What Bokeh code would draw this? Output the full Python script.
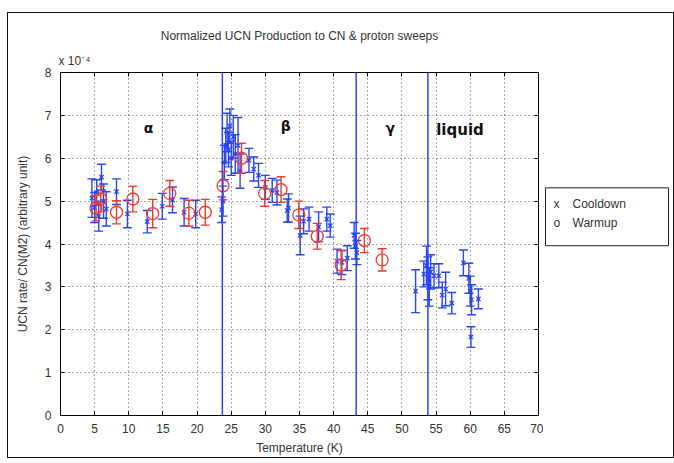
import numpy as np
from bokeh.plotting import figure
from bokeh.layouts import row
from bokeh.models import Span, Label, LinearAxis, Title
from bokeh.core.properties import value
from bokeh.embed import file_html
from bokeh.resources import INLINE

# ---------------- data (values in units of 1e-4) ----------------
cool_T = [4.6, 5.0, 5.3, 5.6, 6.0, 6.3, 6.7, 8.2, 9.8, 12.7, 14.9, 16.4, 18.1, 19.8,
          23.6, 23.8, 24.0, 24.2, 24.4, 24.6, 24.8, 25.0, 25.3, 25.6, 26.0, 26.3,
          27.6, 28.3, 29.0, 30.0, 31.0, 31.7, 33.2, 33.4, 35.1, 35.6, 36.4, 37.8,
          39.0, 39.5, 40.5, 41.2, 42.0, 43.0, 43.2, 43.4,
          52.0, 53.2, 53.6, 53.8, 54.0, 54.2, 54.7, 55.4, 55.9, 56.4, 57.3,
          59.0, 59.8, 60.0, 60.2, 60.1, 61.2]
cool_v = [5.07, 4.85, 5.20, 4.65, 5.56, 5.00, 4.82, 5.22, 4.70, 4.52, 4.88, 5.03, 4.74, 4.70,
          4.80, 5.00, 5.90, 6.30, 6.60, 6.20, 6.75, 6.00, 6.50, 6.10, 6.30, 5.70,
          5.95, 5.75, 5.60, 5.32, 5.25, 5.20, 4.78, 4.84, 4.20, 4.53, 4.58, 4.40,
          4.58, 4.43, 3.60, 3.57, 3.67, 4.20, 3.95, 3.80,
          2.90, 3.30, 3.50, 3.20, 3.00, 3.35, 3.26, 3.26, 2.81, 2.95, 2.62,
          3.56, 3.20, 2.90, 2.70, 1.83, 2.72]
cool_e = [0.45, 0.35, 0.30, 0.35, 0.30, 0.40, 0.40, 0.30, 0.32, 0.26, 0.30, 0.30, 0.32, 0.32,
          0.30, 0.35, 0.40, 0.40, 0.45, 0.40, 0.40, 0.40, 0.50, 0.45, 0.65, 0.40,
          0.28, 0.28, 0.28, 0.28, 0.28, 0.29, 0.27, 0.33, 0.45, 0.29, 0.28, 0.35,
          0.28, 0.27, 0.28, 0.28, 0.29, 0.30, 0.30, 0.28,
          0.50, 0.30, 0.45, 0.50, 0.45, 0.40, 0.28, 0.28, 0.30, 0.39, 0.25,
          0.30, 0.35, 0.35, 0.35, 0.24, 0.23]

warm_T = [5.2, 5.9, 8.2, 10.6, 13.5, 16.0, 18.8, 21.2, 23.8, 26.5, 29.9, 32.3,
          34.9, 37.6, 41.1, 44.5, 47.1]
warm_v = [4.84, 5.05, 4.74, 5.05, 4.71, 5.18, 4.72, 4.74, 5.36, 6.00, 5.18, 5.27,
          4.68, 4.18, 3.51, 4.08, 3.63]
warm_e = [0.30, 0.30, 0.27, 0.30, 0.33, 0.30, 0.30, 0.30, 0.33, 0.35, 0.30, 0.30,
          0.32, 0.30, 0.34, 0.28, 0.26]

x_ticks = list(range(0, 75, 5))
y_ticks = list(range(0, 9))
phase_bounds = [23.7, 43.3, 53.8]
phase_names = ["α", "β", "γ", "liquid"]
phase_T = [12.9, 33.0, 48.3, 58.5]
phase_v = [6.7, 6.75, 6.7, 6.65]
series_names = ["Cooldown", "Warmup"]
series_symbols = ["x", "o"]

BLUE = "#2845ee"
RED = "#f03a2a"
FONT = "Liberation Sans"
TXT = "#333"

p = figure(width=535, height=444, x_range=(0, 70), y_range=(0, 8), title=None,
           output_backend="svg", toolbar_location=None,
           min_border_left=52, min_border_right=5, min_border_top=59, min_border_bottom=42)
p.outline_line_color = "black"
p.background_fill_color = "white"
p.border_fill_color = "white"

for ax in (p.xaxis[0], p.yaxis[0]):
    ax.major_tick_in = 4
    ax.major_tick_out = 0
    ax.minor_tick_line_color = None
    ax.axis_line_color = "black"
    ax.major_tick_line_color = "black"
    ax.major_label_text_font = FONT
    ax.major_label_text_font_size = "12px"
    ax.major_label_text_color = TXT
    ax.axis_label_text_font = FONT
    ax.axis_label_text_font_size = "12px"
    ax.axis_label_text_font_style = "normal"
    ax.axis_label_text_color = TXT
p.xaxis.ticker = x_ticks
p.yaxis.ticker = y_ticks
p.xaxis.axis_label = "Temperature (K)"
p.yaxis.axis_label = "UCN rate/ CN(M2) (arbitrary unit)"
p.xaxis.major_label_standoff = 8
p.xaxis.axis_label_standoff = 5
p.yaxis.major_label_standoff = 9
p.yaxis.axis_label_standoff = 12

# box-style axes on top and right: ticks only, no labels
for loc, tk in (("above", x_ticks), ("right", y_ticks)):
    a = LinearAxis(ticker=tk, major_tick_in=4, major_tick_out=0,
                   minor_tick_line_color=None, axis_line_color="black",
                   major_label_standoff=0, major_label_text_font_size="1px",
                   major_label_overrides={t: "" for t in tk})
    p.add_layout(a, loc)

# exponent marker and title (stacked above the frame)
p.add_layout(Title(text="x 10⁻⁴", align="left", offset=-2, standoff=10,
                   text_font=FONT, text_font_size="12px", text_font_style="normal",
                   text_color=TXT), "above")
p.add_layout(Title(text="Normalized UCN Production to CN & proton sweeps", align="center",
                   standoff=8, text_font=FONT, text_font_size="12px",
                   text_font_style="normal", text_color=TXT), "above")

for g, tk in ((p.xgrid, x_ticks), (p.ygrid, y_ticks)):
    g.ticker = tk
    g.grid_line_color = "#444"
    g.grid_line_dash = "1 3"
    g.grid_line_width = 1
    g.grid_line_alpha = 0.9

cap = 0.65

def errbars(T, v, e, color):
    T = np.array(T); v = np.array(v); e = np.array(e)
    p.segment(T, v - e, T, v + e, line_color=color, line_width=1.4)
    p.segment(T - cap, v + e, T + cap, v + e, line_color=color, line_width=1.4)
    p.segment(T - cap, v - e, T + cap, v - e, line_color=color, line_width=1.4)
    return T, v

ct, cv = errbars(cool_T, cool_v, cool_e, BLUE)
p.scatter(ct, cv, marker="x", size=6, line_color=BLUE, line_width=1.3)
wt, wv = errbars(warm_T, warm_v, warm_e, RED)
p.scatter(wt, wv, marker="circle", size=12, fill_color=None, line_color=RED, line_width=1.3)

for b in phase_bounds:
    p.add_layout(Span(location=b, dimension="height", line_color=BLUE, line_width=1.5))

for name, t, v in zip(phase_names, phase_T, phase_v):
    p.add_layout(Label(x=t, y=v, text=name, text_align="center", text_baseline="middle",
                       text_font="DejaVu Sans", text_font_style="bold",
                       text_font_size="14px" if name != "liquid" else "15px",
                       text_color="#111"))

# ---- legend box, drawn in a companion figure sharing the same vertical scale ----
lg = figure(width=130, height=444, x_range=(0, 130), y_range=(0, 8),
            x_axis_type=None, y_axis_type=None, output_backend="svg", toolbar_location=None,
            min_border_left=0, min_border_right=0, min_border_top=59, min_border_bottom=42)
lg.xgrid.visible = False
lg.ygrid.visible = False
lg.outline_line_color = None
lg.border_fill_color = "white"
legend_box = dict(left=2, right=125, bottom=3.96, top=5.31)
lg.quad(left=[legend_box["left"]], right=[legend_box["right"]],
        bottom=[legend_box["bottom"]], top=[legend_box["top"]],
        fill_color="white", line_color="#222", line_width=1)
rows_y = [4.94, 4.50]
lg.text(x=[10, 10], y=rows_y, text=series_symbols, text_baseline="middle",
        text_align="left", text_font=value(FONT), text_font_size="12px", text_color=TXT)
lg.text(x=[29, 29], y=rows_y, text=series_names, text_baseline="middle",
        text_align="left", text_font=value(FONT), text_font_size="12px", text_color=TXT)

layout = row(p, lg, spacing=0)
layout.styles = {"border": "1px solid #111", "margin": "12px 0 0 7px"}

open("out.html", "w").write(file_html(layout, INLINE))
